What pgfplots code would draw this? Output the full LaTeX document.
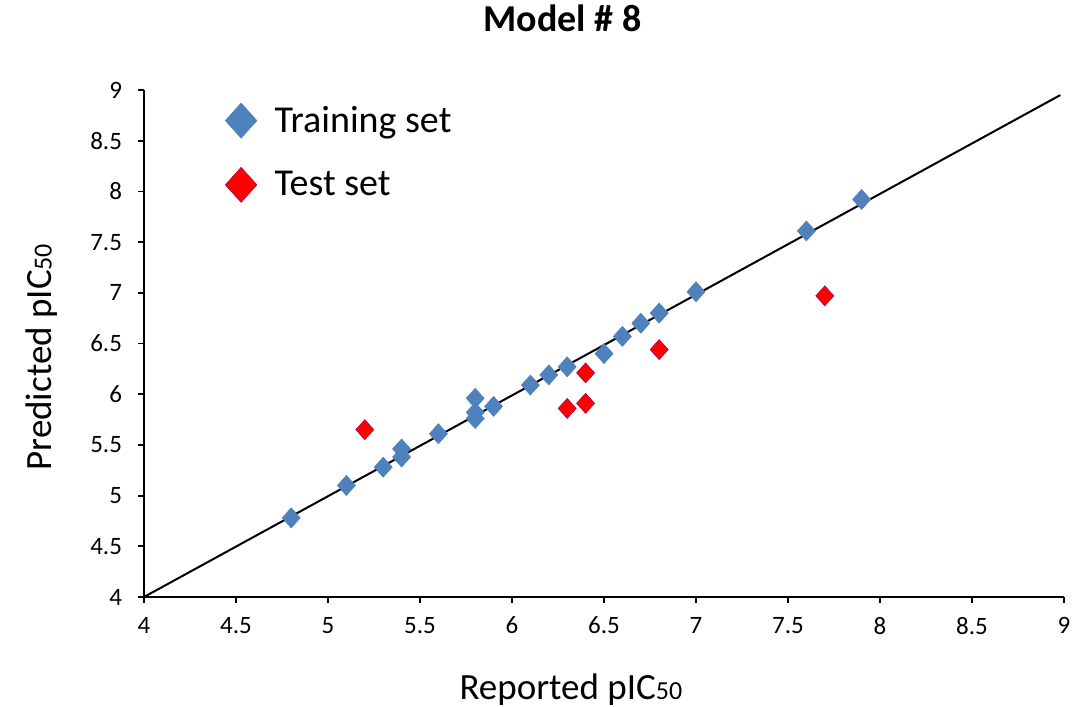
\documentclass[border=0pt]{standalone}
\usepackage{pgfplots}
\pgfplotsset{compat=1.18}
\usepackage{fontspec}
\setmainfont{Carlito}
\definecolor{trainblue}{RGB}{79,129,189}
\definecolor{trainedge}{RGB}{56,93,138}
\definecolor{testred}{RGB}{255,0,0}
\begin{document}
\begin{tikzpicture}
\begin{axis}[
  at={(0,0)}, anchor=south west,
  scale only axis, width=460pt, height=253.5pt,
  xmin=4, xmax=9, ymin=4, ymax=9,
  xtick={4,4.5,...,9}, ytick={4,4.5,...,9},
  axis x line*=bottom, axis y line*=left,
  axis line style={-, line width=1.1pt, black},
  tick align=outside, major tick length=3pt,
  tick style={black, line width=0.9pt},
  /pgf/number format/assume math mode=true,
  ticklabel style={font=\fontsize{12.5}{14}\selectfont},
  xticklabel style={yshift=-3.5pt},
  yticklabel style={xshift=-4.5pt},
  xlabel={Reported pIC{\fontsize{13}{13}\selectfont 50}},
  ylabel={Predicted pIC{\fontsize{13}{13}\selectfont 50}},
  label style={font=\fontsize{18.5}{20}\selectfont},
  xlabel style={at={(axis description cs:0.464,-0.183)}, anchor=center},
  ylabel style={at={(axis description cs:-0.111,0.473)}, anchor=center},
  title={Model \# 8},
  title style={at={(axis description cs:0.455,1.118)}, anchor=center, font=\bfseries\fontsize{19}{20}\selectfont},
  legend style={draw=none, fill=none, at={(axis description cs:0.0796,0.985)}, anchor=north west,
    font=\fontsize{19}{22}\selectfont, row sep=14pt},
  legend cell align=left,
  legend image code/.code={\path (0,0) (0.81cm,0); \draw[#1, mark size=8.75pt] plot coordinates {(0.3cm,0cm)};},
]
\addplot[only marks, mark=diamond*, mark size=5pt, mark options={xscale=1.2, fill=trainblue, draw=trainblue, line width=0.3pt}]
coordinates {
(4.8,4.78) (5.1,5.10) (5.3,5.28) (5.4,5.46) (5.4,5.38) (5.6,5.61)
(5.8,5.96) (5.8,5.82) (5.8,5.76) (5.9,5.88) (6.1,6.09) (6.2,6.19)
(6.3,6.27) (6.5,6.40) (6.6,6.57) (6.7,6.70) (6.8,6.80) (7.0,7.01)
(7.6,7.61) (7.9,7.92)
};
\addlegendentry{Training set}
\addplot[only marks, mark=diamond*, mark size=5pt, mark options={xscale=1.2, fill=testred, draw=testred!70!blue, line width=0.3pt}]
coordinates {
(5.2,5.65) (6.3,5.86) (6.4,5.91) (6.4,6.21) (6.8,6.44) (7.7,6.97)
};
\addlegendentry{Test set}
\addplot[black, line width=1pt, no marks, forget plot] coordinates {(4,4) (8.98,8.95)};
\end{axis}
\pgfresetboundingbox
\path[use as bounding box] (-72pt,-55pt) rectangle (464.5pt,298.5pt);
\end{tikzpicture}
\end{document}
